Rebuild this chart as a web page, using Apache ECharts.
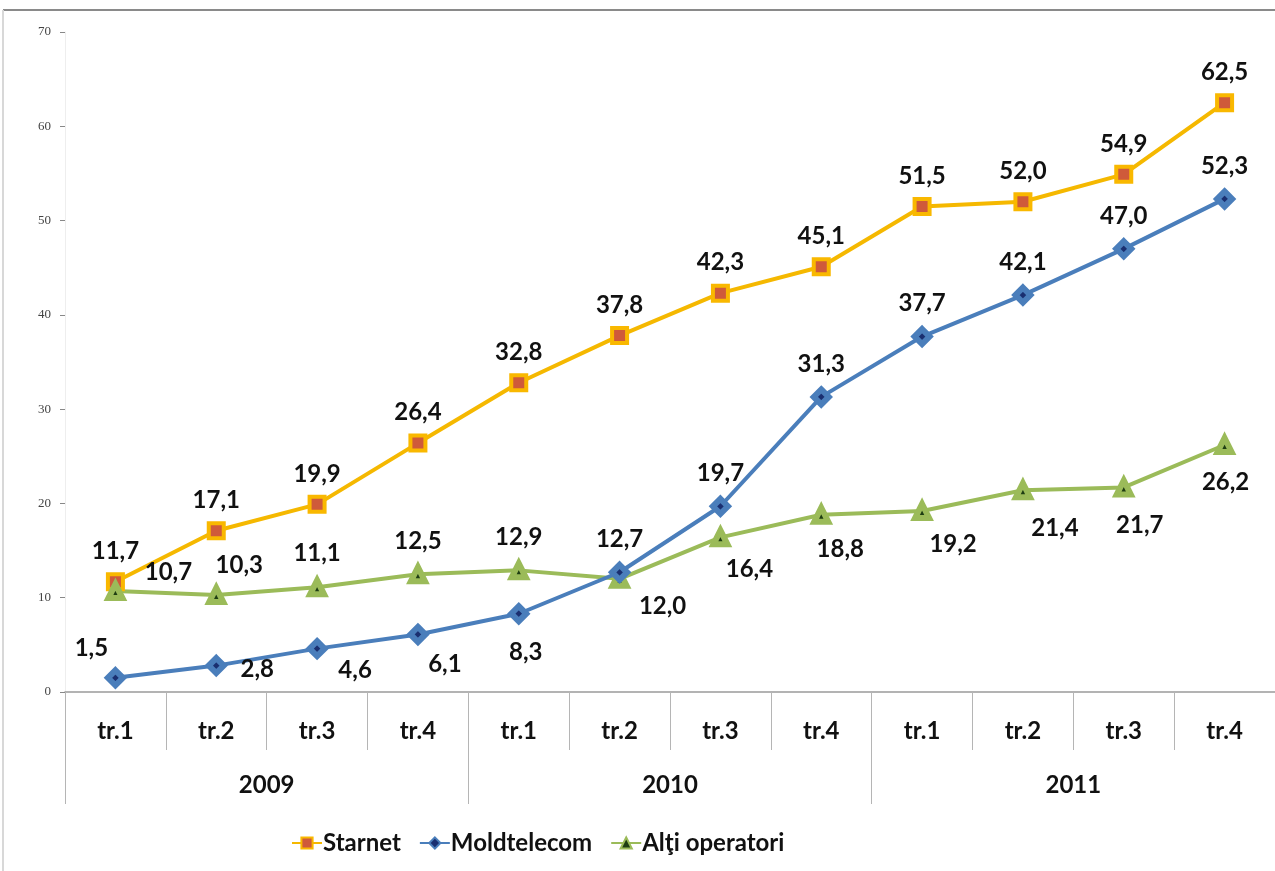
<!DOCTYPE html>
<html>
<head>
<meta charset="utf-8">
<script src="https://cdn.jsdelivr.net/npm/echarts@6/dist/echarts.min.js"></script>
<style>
    html, body { margin: 0; padding: 0; background: #fff; }
    #chart-container { width: 1275px; height: 871px; }
</style>
</head>
<body>
<div id="chart-container"></div>
<script>
var quarters = ['tr.1', 'tr.2', 'tr.3', 'tr.4', 'tr.1', 'tr.2', 'tr.3', 'tr.4', 'tr.1', 'tr.2', 'tr.3', 'tr.4'];
var years = ['2009', '2010', '2011'];

var starnet = [11.7, 17.1, 19.9, 26.4, 32.8, 37.8, 42.3, 45.1, 51.5, 52.0, 54.9, 62.5];
var moldtelecom = [1.5, 2.8, 4.6, 6.1, 8.3, 12.7, 19.7, 31.3, 37.7, 42.1, 47.0, 52.3];
var altii = [10.7, 10.3, 11.1, 12.5, 12.9, 12.0, 16.4, 18.8, 19.2, 21.4, 21.7, 26.2];

// where each value label sits relative to its marker (px)
var moldLabelOffset = [[-24, -30], [41, 4], [38, 22], [27, 30], [7, 39], [0, -33], [0, -33], [0, -33], [0, -33], [0, -33], [0, -33], [0, -33]];
var altiLabelOffset = [[53, -19], [23, -30], [0, -34], [0, -33], [0, -33], [43, 27], [29, 32], [19, 35], [31, 33], [32, 38], [16, 38], [1, 37]];

var labelFont = 'Lato';

function fmt(v) {
    return v.toFixed(1).replace('.', ',');
}

function buildData(values, offsets) {
    return values.map(function (v, i) {
        var item = {value: v};
        if (offsets) {
            item.label = {position: 'inside', offset: offsets[i]};
        }
        return item;
    });
}

var baseLabel = {
    show: true,
    color: '#111',
    fontFamily: labelFont,
    fontWeight: 'bold',
    fontSize: 24,
    formatter: function (p) {
        return fmt(p.value);
    }
};

var dom = document.getElementById('chart-container');
var myChart = echarts.init(dom, null, {renderer: 'canvas'});

var option = {
    animation: false,
    backgroundColor: '#fff',
    graphic: [
        {type: 'line', shape: {x1: 3, y1: 10, x2: 1275, y2: 10}, style: {stroke: '#8a8a8a', lineWidth: 2}},
        {type: 'line', shape: {x1: 3, y1: 10, x2: 3, y2: 871}, style: {stroke: '#d8d8d8', lineWidth: 2}}
    ],
    grid: {
        left: 65,
        right: -1,
        top: 32,
        bottom: 179
    },
    legend: {
        left: 286,
        top: 826,
        itemWidth: 30,
        itemHeight: 14,
        itemGap: 18,
        textStyle: {
            fontFamily: labelFont,
            fontWeight: 'bold',
            fontSize: 24,
            color: '#111',
            padding: [0, 0, 0, -4]
        },
        data: ['Starnet', 'Moldtelecom', 'Alţi operatori']
    },
    xAxis: [
        {
            type: 'category',
            data: quarters,
            boundaryGap: true,
            axisLine: {lineStyle: {color: '#9a9a9a', width: 1.5}},
            axisTick: {show: true, interval: 0, length: 58, lineStyle: {color: '#b5b5b5'}},
            axisLabel: {
                interval: 0,
                margin: 27,
                color: '#111',
                fontFamily: labelFont,
                fontWeight: 'bold',
                fontSize: 24
            },
            splitLine: {show: false}
        },
        {
            type: 'category',
            data: years,
            position: 'bottom',
            boundaryGap: true,
            axisLine: {show: false},
            axisTick: {show: true, interval: 0, length: 112, lineStyle: {color: '#b5b5b5'}},
            axisLabel: {
                interval: 0,
                margin: 81,
                color: '#111',
                fontFamily: labelFont,
                fontWeight: 'bold',
                fontSize: 24
            },
            splitLine: {show: false}
        }
    ],
    yAxis: {
        type: 'value',
        min: 0,
        max: 70,
        interval: 10,
        axisLine: {show: true, lineStyle: {color: '#eeeeee'}},
        axisTick: {show: true, length: 5, lineStyle: {color: '#888'}},
        axisLabel: {
            margin: 14,
            color: '#444',
            fontFamily: 'Liberation Sans Narrow',
            fontSize: 13
        },
        splitLine: {show: false}
    },
    series: [
        {
            name: 'Starnet',
            type: 'line',
            data: buildData(starnet, null),
            symbol: 'rect',
            symbolSize: 15,
            lineStyle: {color: '#f5b800', width: 4},
            itemStyle: {color: '#cf5a3a', borderColor: '#f9b800', borderWidth: 4},
            label: Object.assign({}, baseLabel, {position: 'top', distance: 9}),
            z: 3
        },
        {
            name: 'Moldtelecom',
            type: 'line',
            data: buildData(moldtelecom, moldLabelOffset),
            symbol: 'diamond',
            symbolSize: 15,
            lineStyle: {color: '#4a7ebb', width: 4},
            itemStyle: {color: '#1a2f70', borderColor: '#4a7ebb', borderWidth: 6},
            label: baseLabel,
            z: 4
        },
        {
            name: 'Alţi operatori',
            type: 'line',
            data: buildData(altii, altiLabelOffset),
            symbol: 'triangle',
            symbolSize: 14,
            lineStyle: {color: '#9bbb59', width: 4},
            itemStyle: {color: '#1e3d12', borderColor: '#9bbb59', borderWidth: 6},
            label: baseLabel,
            z: 3
        }
    ]
};

myChart.setOption(option);
window.addEventListener('resize', myChart.resize);
</script>
</body>
</html>
